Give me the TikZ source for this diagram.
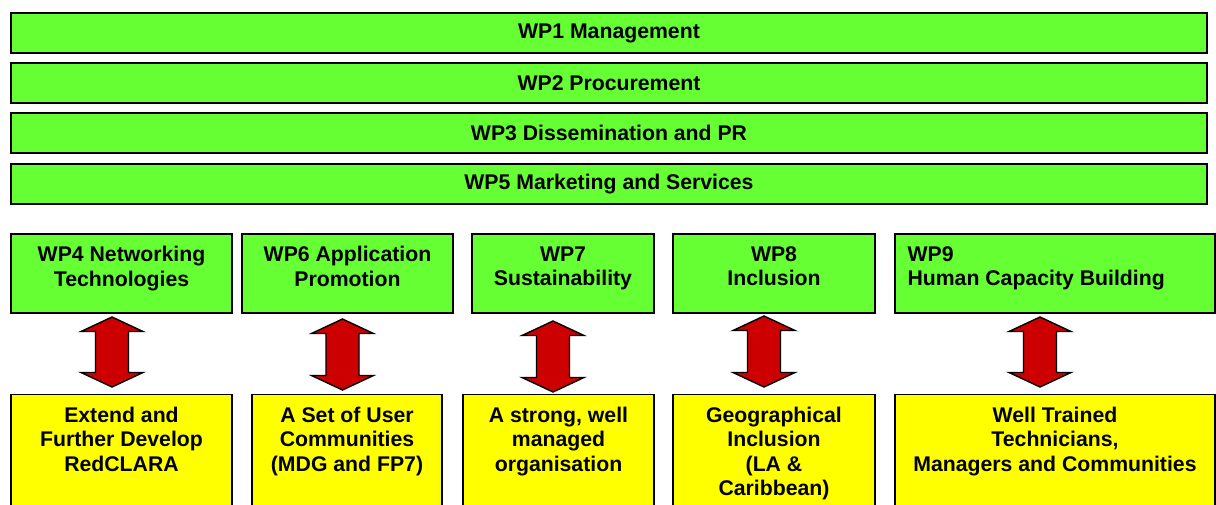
\documentclass[tikz,border=0pt]{standalone}
\usepackage{fontspec}
\setmainfont{Liberation Sans}
\usetikzlibrary{positioning}
\definecolor{wpgreen}{RGB}{102,255,51}
\definecolor{resyellow}{RGB}{255,255,0}
\definecolor{arrowred}{RGB}{204,0,0}
\newcommand{\wpfont}{\fontsize{15.1pt}{17.4pt}\selectfont\bfseries}

\begin{document}
\begin{tikzpicture}[x=0.025cm, y=-0.025cm,
    wpbar/.style={draw, line width=1pt, fill=wpgreen, minimum width=29.9cm,
        minimum height=1cm, inner sep=0pt, font=\wpfont},
    wpbox/.style={draw, line width=1pt, fill=wpgreen, minimum height=1.975cm, inner sep=0pt},
    resbox/.style={draw, line width=1pt, fill=resyellow, minimum height=3.125cm, inner sep=0pt},
    boxtext/.style={inner sep=0pt, align=center, font=\wpfont},
    bigarrow/.style={draw, line width=1pt, fill=arrowred, line join=miter}]
    \useasboundingbox (0,0) rectangle (1216,505);
    \clip (0,0) rectangle (1216,505);
    % work packages over the whole project
    \node[wpbar] (wp1) at (609,33) {WP1 Management};
    \node[wpbar] (wp2) at (609,83) {WP2 Procurement};
    \node[wpbar] (wp3) at (609,133) {WP3 Dissemination and PR};
    \node[wpbar] (wp5) at (609,184) {WP5 Marketing and Services};
    % technical work packages
    \node[wpbox, minimum width=5.525cm] (wp4) at (121.5,273.5) {};
    \node[wpbox, minimum width=5.275cm] (wp6) at (347.5,273.5) {};
    \node[wpbox, minimum width=4.55cm] (wp7) at (563,273.5) {};
    \node[wpbox, minimum width=5.05cm] (wp8) at (774,273.5) {};
    \node[wpbox, minimum width=8cm] (wp9) at (1055,273.5) {};
    \node[boxtext, below=0.325cm of wp4.north] (wp4txt) {WP4 Networking\\Technologies};
    \node[boxtext, below=0.325cm of wp6.north] (wp6txt) {WP6 Application\\Promotion};
    \node[boxtext, below=0.325cm of wp7.north] (wp7txt) {WP7\\Sustainability};
    \node[boxtext, below=0.325cm of wp8.north] (wp8txt) {WP8\\Inclusion};
    \node[boxtext, align=left, below right=0.325cm and 0.325cm of wp9.north west] (wp9txt)
        {WP9\\Human Capacity Building};
    % expected results
    \node[resbox, minimum width=5.525cm] (res4) at (121.5,457) {};
    \node[resbox, minimum width=4.75cm] (res6) at (347,457) {};
    \node[resbox, minimum width=4.775cm] (res7) at (558.5,457) {};
    \node[resbox, minimum width=5.05cm] (res8) at (774,457) {};
    \node[resbox, minimum width=8cm] (res9) at (1055,457) {};
    \node[boxtext, below=0.325cm of res4.north] (res4txt) {Extend and\\Further Develop\\RedCLARA};
    \node[boxtext, below=0.325cm of res6.north] (res6txt) {A Set of User\\Communities\\(MDG and FP7)};
    \node[boxtext, below=0.325cm of res7.north] (res7txt) {A strong, well\\managed\\organisation};
    \node[boxtext, below=0.325cm of res8.north] (res8txt) {Geographical\\Inclusion\\(LA \&\\Caribbean)};
    \node[boxtext, below=0.325cm of res9.north] (res9txt) {Well Trained\\Technicians,\\Managers and Communities};
    % double arrows between the rows
    \foreach \cx/\t/\b in {112/317/387, 342.5/319/390, 553/321/392, 764/316/387, 1040/317/387}
        \draw[bigarrow] (\cx,\t) -- ({\cx+31},{\t+14.5}) -- ({\cx+16.5},{\t+14.5})
            -- ({\cx+16.5},{\b-14.5}) -- ({\cx+31},{\b-14.5}) -- (\cx,\b)
            -- ({\cx-31},{\b-14.5}) -- ({\cx-16.5},{\b-14.5}) -- ({\cx-16.5},{\t+14.5})
            -- ({\cx-31},{\t+14.5}) -- cycle;
\end{tikzpicture}
\end{document}
